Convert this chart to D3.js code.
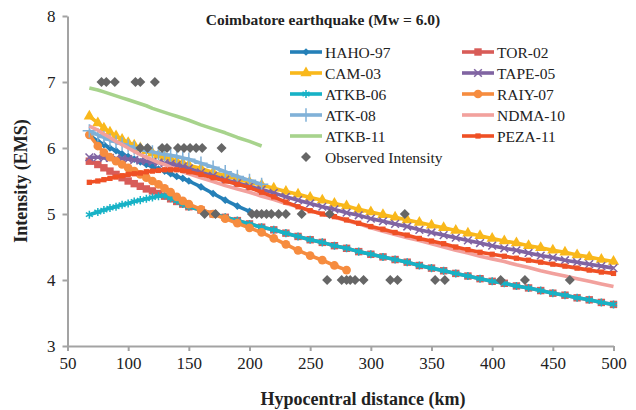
<!DOCTYPE html>
<html>
<head>
<meta charset="utf-8">
<script src="https://d3js.org/d3.v7.min.js"></script>
<style>
    body { margin: 0; background: #fff; }
    text { font-family: "Liberation Serif", "Times New Roman", serif; fill: #222; }
</style>
</head>
<body>
<div id="chart"></div>
<script>
// hypocentral distance (km) at which each model was evaluated
var distance = [68, 75, 80, 85, 90, 95, 100, 105, 110, 115, 120, 125, 130, 135, 140, 145, 150,
    160, 170, 180, 190, 200, 210, 220, 230, 240, 250, 260, 270, 280, 290, 300, 310, 320, 330,
    340, 350, 360, 370, 380, 390, 400, 410, 420, 430, 440, 450, 460, 470, 480, 490, 500];

// predicted intensity (EMS); a series stops where its array ends
var haho97 = [6.2, 6.1, 6.05, 6.0, 5.96, 5.91, 5.87, 5.83, 5.79, 5.75, 5.72, 5.68, 5.65, 5.61, 5.57, 5.54, 5.5,
    5.41, 5.31, 5.21, 5.12, 5.04];
var tor02 = [5.8, 5.75, 5.7, 5.65, 5.6, 5.55, 5.5, 5.46, 5.42, 5.38, 5.35, 5.31, 5.27, 5.23, 5.19, 5.15, 5.11,
    5.06, 5.0, 4.95, 4.9, 4.85, 4.8, 4.76, 4.71, 4.66, 4.61, 4.57, 4.52, 4.48, 4.43, 4.39, 4.35, 4.31, 4.27,
    4.22, 4.18, 4.14, 4.1, 4.06, 4.02, 3.98, 3.95, 3.91, 3.88, 3.84, 3.8, 3.77, 3.73, 3.7, 3.66, 3.63];
var cam03 = [6.48, 6.38, 6.3, 6.24, 6.18, 6.13, 6.08, 6.04, 6.0, 5.96, 5.92, 5.89, 5.86, 5.83, 5.8, 5.77, 5.74,
    5.69, 5.63, 5.58, 5.53, 5.48, 5.44, 5.39, 5.34, 5.3, 5.25, 5.21, 5.16, 5.12, 5.07, 5.03, 4.99, 4.95, 4.91,
    4.87, 4.83, 4.79, 4.75, 4.71, 4.67, 4.63, 4.59, 4.56, 4.52, 4.49, 4.45, 4.42, 4.38, 4.35, 4.31, 4.28];
var tape05 = [5.86, 5.86, 5.85, 5.85, 5.84, 5.84, 5.83, 5.82, 5.81, 5.8, 5.79, 5.78, 5.77, 5.76, 5.74, 5.72, 5.69,
    5.63, 5.58, 5.52, 5.47, 5.42, 5.37, 5.32, 5.26, 5.21, 5.16, 5.11, 5.07, 5.02, 4.98, 4.93, 4.89, 4.85, 4.81,
    4.76, 4.72, 4.68, 4.64, 4.6, 4.56, 4.52, 4.48, 4.45, 4.41, 4.37, 4.34, 4.3, 4.27, 4.24, 4.21, 4.18];
var atkb06 = [4.99, 5.03, 5.06, 5.09, 5.11, 5.14, 5.16, 5.19, 5.21, 5.23, 5.25, 5.27, 5.28, 5.24, 5.2, 5.15, 5.11,
    5.06, 5.0, 4.95, 4.9, 4.85, 4.8, 4.76, 4.71, 4.66, 4.61, 4.57, 4.52, 4.48, 4.43, 4.39, 4.35, 4.31, 4.27,
    4.22, 4.18, 4.14, 4.1, 4.06, 4.02, 3.98, 3.95, 3.91, 3.88, 3.84, 3.8, 3.77, 3.73, 3.7, 3.66, 3.63];
var raiy07 = [6.2, 6.03, 5.93, 5.86, 5.8, 5.75, 5.7, 5.65, 5.6, 5.55, 5.5, 5.45, 5.39, 5.33, 5.26, 5.2, 5.15,
    5.07, 5.0, 4.93, 4.86, 4.79, 4.72, 4.63, 4.54, 4.45, 4.37, 4.3, 4.22, 4.15];
var atk08 = [6.26, 6.2, 6.16, 6.12, 6.09, 6.06, 6.03, 6.0, 5.98, 5.96, 5.94, 5.92, 5.9, 5.89, 5.87, 5.85, 5.83,
    5.77, 5.71, 5.64, 5.57, 5.51, 5.45];
var ndma10 = [6.33, 6.27, 6.21, 6.16, 6.1, 6.05, 6.0, 5.95, 5.9, 5.86, 5.82, 5.78, 5.75, 5.71, 5.68, 5.64, 5.61,
    5.55, 5.49, 5.43, 5.38, 5.33, 5.27, 5.22, 5.16, 5.11, 5.05, 5.0, 4.95, 4.9, 4.85, 4.79, 4.74, 4.69, 4.64,
    4.6, 4.55, 4.5, 4.45, 4.41, 4.36, 4.32, 4.28, 4.23, 4.19, 4.14, 4.1, 4.06, 4.02, 3.98, 3.94, 3.9];
var atkb11 = [6.91, 6.88, 6.85, 6.82, 6.79, 6.76, 6.73, 6.7, 6.67, 6.64, 6.6, 6.57, 6.54, 6.51, 6.48, 6.45, 6.42,
    6.35, 6.29, 6.23, 6.16, 6.1, 6.03];
var peza11 = [5.48, 5.5, 5.52, 5.54, 5.56, 5.58, 5.6, 5.61, 5.62, 5.64, 5.65, 5.66, 5.67, 5.67, 5.67, 5.66, 5.64,
    5.6, 5.55, 5.5, 5.45, 5.4, 5.33, 5.26, 5.18, 5.11, 5.05, 5.0, 4.96, 4.91, 4.86, 4.81, 4.77, 4.72, 4.68,
    4.63, 4.59, 4.55, 4.5, 4.46, 4.42, 4.39, 4.36, 4.33, 4.3, 4.27, 4.24, 4.21, 4.18, 4.15, 4.12, 4.1];

// observed intensities
var obsDistance = [78, 82, 89, 106, 110, 122,
    110, 116, 128, 132, 141, 146, 151, 156, 161, 177,
    163, 172, 202, 206, 210, 214, 218, 224, 230, 243, 266, 328,
    264, 276, 280, 283, 287, 294, 316, 322, 353, 361, 407, 427, 464];
var obsIntensity = [7, 7, 7, 7, 7, 7,
    6, 6, 6, 6, 6, 6, 6, 6, 6, 6,
    5, 5, 5, 5, 5, 5, 5, 5, 5, 5, 5, 5,
    4, 4, 4, 4, 4, 4, 4, 4, 4, 4, 4, 4, 4];

var xTicks = [50, 100, 150, 200, 250, 300, 350, 400, 450, 500];
var yTicks = [3, 4, 5, 6, 7, 8];

// legend / draw order as in the original workbook
var series = [
    { name: "HAHO-97", values: haho97, color: "#2580b8", marker: "diamond" },
    { name: "TOR-02", values: tor02, color: "#d85c58", marker: "square" },
    { name: "CAM-03", values: cam03, color: "#f9b81b", marker: "triangle" },
    { name: "TAPE-05", values: tape05, color: "#8064a2", marker: "x" },
    { name: "ATKB-06", values: atkb06, color: "#17b2c6", marker: "asterisk" },
    { name: "RAIY-07", values: raiy07, color: "#f68c3f", marker: "circle" },
    { name: "ATK-08", values: atk08, color: "#80b1d8", marker: "plus" },
    { name: "NDMA-10", values: ndma10, color: "#f2a19d", marker: "none" },
    { name: "ATKB-11", values: atkb11, color: "#a7d38c", marker: "none" },
    { name: "PEZA-11", values: peza11, color: "#ef5025", marker: "smallsquare" }
];

ChartVis = function(_parentElement) {
    this.parentElement = _parentElement;
    this.initVis();
};

ChartVis.prototype.initVis = function() {
    let vis = this;

    vis.svg = d3.select(vis.parentElement).append("svg")
        .attr("width", 636)
        .attr("height", 410);

    vis.x = d3.scaleLinear().domain([50, 500]).range([67.5, 613.5]);
    vis.y = d3.scaleLinear().domain([3, 8]).range([346, 16]);

    // axes
    var axisColor = "#a3a3a3";
    vis.svg.append("g")
        .attr("transform", "translate(0,346)")
        .call(d3.axisBottom(vis.x).tickValues(xTicks).tickFormat(d3.format("d"))
            .tickSize(5).tickPadding(6).tickSizeOuter(0));
    vis.svg.append("g")
        .attr("transform", "translate(67.5,0)")
        .call(d3.axisLeft(vis.y).tickValues(yTicks).tickFormat(d3.format("d"))
            .tickSize(5).tickPadding(7).tickSizeOuter(0));

    vis.svg.selectAll(".domain, .tick line")
        .attr("stroke", axisColor)
        .attr("stroke-width", 2);
    vis.svg.selectAll(".tick text")
        .attr("font-family", "Liberation Serif")
        .attr("font-size", 17)
        .attr("fill", "#222");

    // titles
    vis.svg.append("text")
        .attr("x", 323)
        .attr("y", 25)
        .attr("text-anchor", "middle")
        .attr("font-size", 15.5)
        .attr("font-weight", "bold")
        .text("Coimbatore earthquake (Mw = 6.0)");

    vis.svg.append("text")
        .attr("x", 363)
        .attr("y", 405)
        .attr("text-anchor", "middle")
        .attr("font-size", 18)
        .attr("font-weight", "bold")
        .text("Hypocentral distance (km)");

    vis.svg.append("text")
        .attr("transform", "translate(27,181) rotate(-90)")
        .attr("text-anchor", "middle")
        .attr("font-size", 18)
        .attr("font-weight", "bold")
        .text("Intensity (EMS)");

    vis.line = d3.line()
        .x(function(d) { return vis.x(d.d); })
        .y(function(d) { return vis.y(d.v); });

    // model curves
    series.forEach(function(s) {
        var pts = s.values.map(function(v, i) {
            return { d: distance[i], v: v };
        });

        var g = vis.svg.append("g");
        g.append("path")
            .datum(pts)
            .attr("fill", "none")
            .attr("stroke", s.color)
            .attr("stroke-width", 3.6)
            .attr("stroke-linejoin", "round")
            .attr("d", vis.line);

        g.selectAll(".mk")
            .data(s.marker == "none" ? [] : pts)
            .enter()
            .append("path")
            .attr("class", "mk")
            .attr("transform", function(p) { return "translate(" + vis.x(p.d) + "," + vis.y(p.v) + ")"; })
            .each(function() { vis.drawMarker(d3.select(this), s); });
    });

    // observed intensity
    vis.svg.append("g")
        .selectAll("path")
        .data(obsDistance.map(function(d, i) { return [d, obsIntensity[i]]; }))
        .enter()
        .append("path")
        .attr("d", d3.symbol().type(d3.symbolSquare).size(50))
        .attr("fill", "#666")
        .attr("transform", function(p) {
            return "translate(" + vis.x(p[0]) + "," + vis.y(p[1]) + ") rotate(45)";
        });

    vis.drawLegend();
};

ChartVis.prototype.drawMarker = function(sel, s) {
    var sym = {
        diamond: [d3.symbolSquare, 30, true, 45],
        square: [d3.symbolSquare, 55, true, 0],
        triangle: [d3.symbolTriangle, 55, true, 0],
        circle: [d3.symbolCircle, 60, true, 0],
        smallsquare: [d3.symbolSquare, 28, true, 0],
        x: [d3.symbolX || d3.symbolCross, 40, false, 0],
        asterisk: [d3.symbolAsterisk || d3.symbolCross, 45, false, 0],
        plus: [d3.symbolPlus || d3.symbolCross, 60, false, 0]
    }[s.marker];
    sel.attr("d", d3.symbol().type(sym[0]).size(sym[1])());
    if (sym[3]) {
        sel.attr("transform", sel.attr("transform") + " rotate(" + sym[3] + ")");
    }
    if (sym[2]) {
        sel.attr("fill", s.color);
    } else {
        sel.attr("fill", "none")
            .attr("stroke", s.color)
            .attr("stroke-width", 1.5);
    }
};

ChartVis.prototype.drawLegend = function() {
    let vis = this;

    var items = series.map(function(s, i) {
        return { s: s, col: i % 2, row: Math.floor(i / 2) };
    });
    items.push({ s: { name: "Observed Intensity", marker: "obs" }, col: 0, row: 5 });

    var lg = vis.svg.append("g").attr("class", "legend");
    var colX = [290, 462];

    items.forEach(function(it) {
        var x0 = colX[it.col];
        var yy = 52 + it.row * 21;
        if (it.s.marker == "obs") {
            lg.append("path")
                .attr("d", d3.symbol().type(d3.symbolSquare).size(50))
                .attr("fill", "#666")
                .attr("transform", "translate(" + (x0 + 16) + "," + yy + ") rotate(45)");
        } else {
            lg.append("line")
                .attr("x1", x0)
                .attr("x2", x0 + 32)
                .attr("y1", yy)
                .attr("y2", yy)
                .attr("stroke", it.s.color)
                .attr("stroke-width", 3.6);
            if (it.s.marker != "none") {
                var m = lg.append("path")
                    .attr("transform", "translate(" + (x0 + 16) + "," + yy + ")");
                vis.drawMarker(m, it.s);
            }
        }
        lg.append("text")
            .attr("x", x0 + 35)
            .attr("y", yy + 5.5)
            .attr("font-size", 15.5)
            .text(it.s.name);
    });
};

new ChartVis("#chart");
</script>
</body>
</html>
